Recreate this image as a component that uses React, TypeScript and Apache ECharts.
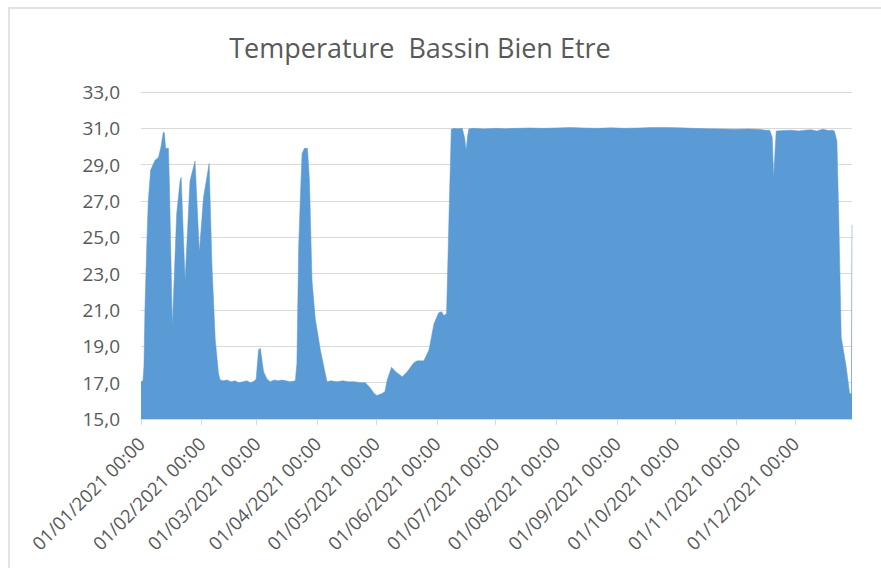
import React, { useEffect, useRef } from "react";
import * as echarts from "echarts";

const TITLE = "Temperature  Bassin Bien Etre";

const dates: string[] = [
  "2021-01-01 00:00", "2021-01-02 00:00", "2021-01-02 12:00", "2021-01-03 00:00", "2021-01-03 22:00",
  "2021-01-04 17:00", "2021-01-05 22:00", "2021-01-08 05:00", "2021-01-09 22:00", "2021-01-11 05:00",
  "2021-01-12 10:00", "2021-01-12 22:00", "2021-01-13 14:00", "2021-01-15 00:00", "2021-01-15 12:00",
  "2021-01-17 00:00", "2021-01-19 05:00", "2021-01-21 00:00", "2021-01-21 12:00", "2021-01-23 12:00",
  "2021-01-26 00:00", "2021-01-28 14:00", "2021-01-30 19:00", "2021-02-01 22:00", "2021-02-04 19:00",
  "2021-02-06 05:00", "2021-02-07 22:00", "2021-02-09 14:00", "2021-02-10 10:00", "2021-02-12 00:00",
  "2021-02-14 00:00", "2021-02-16 00:00", "2021-02-18 00:00", "2021-02-20 00:00", "2021-02-22 00:00",
  "2021-02-24 00:00", "2021-02-26 00:00", "2021-02-28 00:00", "2021-02-28 19:00", "2021-03-02 00:00",
  "2021-03-02 22:00", "2021-03-04 14:00", "2021-03-06 07:00", "2021-03-08 00:00", "2021-03-10 00:00",
  "2021-03-12 00:00", "2021-03-14 00:00", "2021-03-16 00:00", "2021-03-18 00:00", "2021-03-20 19:00",
  "2021-03-21 14:00", "2021-03-22 12:00", "2021-03-23 07:00", "2021-03-24 05:00", "2021-03-25 10:00",
  "2021-03-27 00:00", "2021-03-28 00:00", "2021-03-29 07:00", "2021-03-31 00:00", "2021-04-02 14:00",
  "2021-04-05 02:00", "2021-04-06 00:00", "2021-04-08 00:00", "2021-04-11 00:00", "2021-04-14 00:00",
  "2021-04-17 00:00", "2021-04-20 00:00", "2021-04-23 00:00", "2021-04-25 14:00", "2021-04-28 02:00",
  "2021-04-30 00:00", "2021-05-01 12:00", "2021-05-04 00:00", "2021-05-05 12:00", "2021-05-06 17:00",
  "2021-05-08 22:00", "2021-05-11 00:00", "2021-05-14 10:00", "2021-05-16 22:00", "2021-05-20 07:00",
  "2021-05-22 00:00", "2021-05-25 10:00", "2021-05-28 00:00", "2021-05-30 14:00", "2021-06-02 00:00",
  "2021-06-03 12:00", "2021-06-04 14:00", "2021-06-06 00:00", "2021-06-07 05:00", "2021-06-08 10:00",
  "2021-06-10 00:00", "2021-06-12 00:00", "2021-06-14 00:00", "2021-06-15 05:00", "2021-06-16 00:00",
  "2021-06-16 19:00", "2021-06-17 10:00", "2021-06-20 00:00", "2021-06-25 00:00", "2021-07-01 00:00",
  "2021-07-06 00:00", "2021-07-12 00:00", "2021-07-18 00:00", "2021-07-25 00:00", "2021-08-01 00:00",
  "2021-08-08 00:00", "2021-08-15 00:00", "2021-08-22 00:00", "2021-08-29 00:00", "2021-09-05 00:00",
  "2021-09-12 00:00", "2021-09-19 00:00", "2021-09-26 00:00", "2021-10-03 00:00", "2021-10-10 00:00",
  "2021-10-17 00:00", "2021-10-24 00:00", "2021-10-31 00:00", "2021-11-07 00:00", "2021-11-12 00:00",
  "2021-11-16 00:00", "2021-11-18 00:00", "2021-11-19 07:00", "2021-11-20 00:00", "2021-11-20 14:00",
  "2021-11-21 07:00", "2021-11-25 00:00", "2021-11-29 00:00", "2021-12-03 00:00", "2021-12-06 00:00",
  "2021-12-09 00:00", "2021-12-12 00:00", "2021-12-15 00:00", "2021-12-18 00:00", "2021-12-20 00:00",
  "2021-12-21 00:00", "2021-12-22 07:00", "2021-12-23 05:00", "2021-12-24 12:00", "2021-12-27 00:00",
  "2021-12-28 19:00", "2021-12-29 17:00", "2021-12-30 00:00",
];

const temps: number[] = [
  17.05, 17.1, 17.9, 21.0, 24.5,
  27.0, 28.7, 29.25, 29.4, 30.0,
  30.8, 30.75, 29.9, 29.9, 28.0,
  20.1, 26.3, 28.15, 28.3, 22.65,
  28.1, 29.2, 24.2, 27.2, 29.07,
  23.5, 19.35, 17.5, 17.15, 17.1,
  17.15, 17.05, 17.1, 17.0, 17.05,
  17.1, 17.0, 17.1, 17.2, 18.8,
  18.9, 17.6, 17.2, 17.05, 17.15,
  17.1, 17.15, 17.1, 17.05, 17.1,
  18.06, 24.5, 27.0, 29.6, 29.9,
  29.9, 28.15, 22.65, 20.5, 18.8,
  17.5, 17.05, 17.1, 17.05, 17.1,
  17.05, 17.05, 17.0, 17.0, 16.7,
  16.4, 16.3, 16.4, 16.5, 17.15,
  17.85, 17.6, 17.33, 17.6, 18.1,
  18.2, 18.2, 18.8, 20.25, 20.85,
  20.9, 20.7, 20.8, 26.0, 30.95,
  31.0, 30.98, 31.0, 30.5, 29.8,
  30.6, 30.98, 31.0, 30.97, 31.0,
  30.98, 31.0, 31.02, 31.0, 31.02,
  31.05, 31.02, 31.0, 31.03, 31.0,
  31.02, 31.05, 31.05, 31.03, 31.0,
  30.98, 30.97, 30.95, 30.97, 30.95,
  30.9, 30.9, 30.5, 28.3, 29.5,
  30.85, 30.88, 30.9, 30.85, 30.9,
  30.92, 30.85, 30.95, 30.88, 30.9,
  30.85, 30.3, 26.3, 19.5, 17.9,
  16.4, 16.4, 25.7,
];

const Y_MIN = 15;
const Y_MAX = 33;
const Y_STEP = 2;

const TEXT = "#595959";
const GRID = "#d9d9d9";
const FILL = "#5B9BD5";
const FONT = "'Open Sans', sans-serif";

function toTs(s: string): number {
  const [d, t] = s.split(" ");
  const [y, m, dd] = d.split("-").map(Number);
  const [hh, mm] = t.split(":").map(Number);
  return new Date(y, m - 1, dd, hh, mm).getTime();
}

function pad(n: number): string {
  return n < 10 ? "0" + n : String(n);
}

export default function App() {
  const ref = useRef<HTMLDivElement>(null);
  useEffect(() => {
    if (!ref.current) return;
    const chart = echarts.init(ref.current, null, { renderer: "svg" });
    const data = dates.map((d, i) => [toTs(d), temps[i]]);
    const DAY = 86400000;
    chart.setOption({
      animation: false,
      backgroundColor: "#ffffff",
      graphic: [
        {
          type: "rect",
          shape: { x: 9, y: 8, width: 900, height: 600 },
          style: { fill: "none", stroke: GRID, lineWidth: 1.5 },
          silent: true,
        },
        {
          type: "text",
          x: 420,
          y: 47,
          style: {
            text: TITLE,
            fill: TEXT,
            font: `27px ${FONT}`,
            align: "center",
            verticalAlign: "middle",
          },
        },
      ],
      grid: { left: 141, right: 29, top: 92, bottom: 149 },
      xAxis: {
        type: "time",
        min: toTs(dates[0]),
        max: toTs(dates[dates.length - 1]),
        minInterval: 28 * DAY,
        maxInterval: 31 * DAY,
        axisLine: { show: true, lineStyle: { color: GRID, width: 1 } },
        axisTick: { show: true, length: 6, lineStyle: { color: GRID } },
        splitLine: { show: false },
        axisLabel: {
          rotate: 45,
          margin: 21,
          color: TEXT,
          fontSize: 18.5,
          fontFamily: FONT,
          showMaxLabel: false,
          formatter: (v: number) => {
            const d = new Date(v);
            return `${pad(d.getDate())}/${pad(d.getMonth() + 1)}/${d.getFullYear()} 00:00`;
          },
        },
      },
      yAxis: {
        type: "value",
        min: Y_MIN,
        max: Y_MAX,
        interval: Y_STEP,
        axisLine: { show: false },
        axisTick: { show: false },
        splitLine: { lineStyle: { color: GRID, width: 1 } },
        axisLabel: {
          margin: 21,
          color: TEXT,
          fontSize: 19,
          fontFamily: FONT,
          formatter: (v: number) => v.toFixed(1).replace(".", ","),
        },
      },
      series: [
        {
          type: "line",
          data,
          symbol: "none",
          lineStyle: { width: 0.5, color: FILL },
          areaStyle: { color: FILL, opacity: 1, origin: "start" },
        },
      ],
    });
    return () => chart.dispose();
  }, []);
  return (
    <div
      ref={ref}
      style={{ position: "fixed", left: 0, top: 0, width: 881, height: 568 }}
    />
  );
}
